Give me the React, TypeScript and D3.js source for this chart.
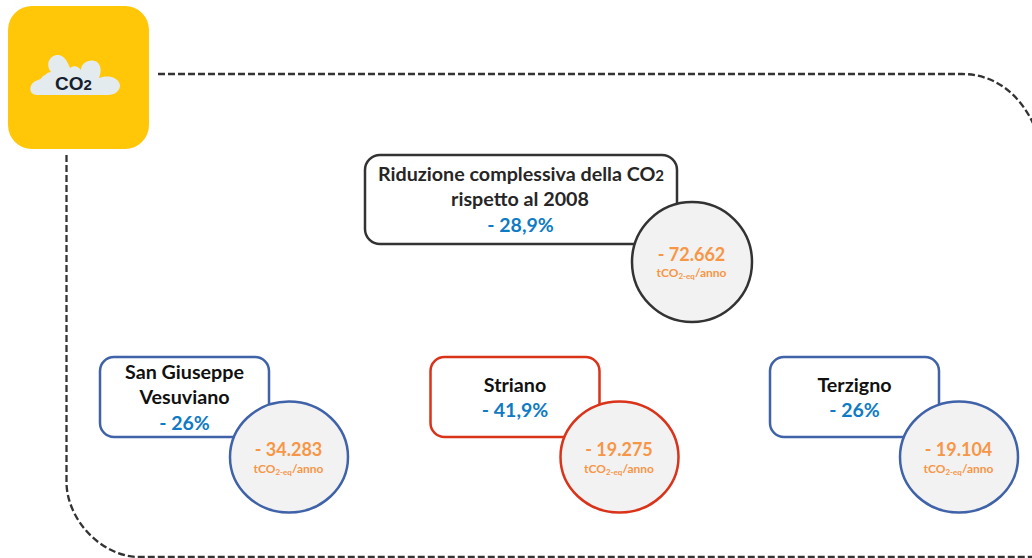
import React from "react";
import * as d3 from "d3";

const municipalities = ["San Giuseppe|Vesuviano", "Striano", "Terzigno"];
const percentages = ["- 26%", "- 41,9%", "- 26%"];
const tonnes = ["- 34.283", "- 19.275", "- 19.104"];
const borders = ["#3F62A8", "#D9331A", "#3F62A8"];
const cardCentres = [184.5, 515, 854.5];
const totalTitle = ["Riduzione complessiva della CO", "rispetto al 2008"];
const totalPct = "- 28,9%";
const totalTonnes = "- 72.662";

const FONT = "Lato, 'Open Sans', sans-serif";
const BLUE = "#0F7BC4";
const ORANGE = "#F79646";

const x = d3.scaleOrdinal<string, number>().domain(municipalities).range(cardCentres);

function frame() {
  const p = d3.path();
  p.moveTo(158, 74);
  p.lineTo(962, 74);
  p.bezierCurveTo(995, 74, 1022, 95, 1036, 130);
  p.moveTo(66.5, 155);
  p.lineTo(66.5, 482);
  p.bezierCurveTo(66.5, 518, 100, 557, 140, 557);
  p.lineTo(1036, 557);
  return p.toString();
}

function cloud() {
  const p = d3.path();
  p.moveTo(37, 95);
  p.bezierCurveTo(28, 95, 28, 83, 38, 80);
  p.bezierCurveTo(42, 79, 42, 76, 45, 75);
  p.bezierCurveTo(47, 73, 49, 72, 51, 72);
  p.bezierCurveTo(44, 62, 52, 54, 59, 55);
  p.bezierCurveTo(65, 56, 68, 63, 70, 68);
  p.bezierCurveTo(74, 65, 78, 66, 81, 70);
  p.bezierCurveTo(81, 62, 91, 58, 97, 62);
  p.bezierCurveTo(102, 66, 101, 73, 99, 78);
  p.bezierCurveTo(106, 75, 118, 76, 120, 85);
  p.bezierCurveTo(120, 91, 115, 95, 108, 95);
  p.closePath();
  return p.toString();
}

function Card(props: { name: string; pct: string; val: string; cx: number; color: string }) {
  const { name, pct, val, cx, color } = props;
  const lines = name.split("|");
  const ys = lines.length === 2 ? [379, 404] : [392];
  const circleX = cx + 104.5;
  return (
    <g>
      <rect x={cx - 84.5} y={357} width={169} height={80} rx={14} fill="#fff" stroke={color} strokeWidth={2.5} />
      {lines.map((l, i) => (
        <text key={l} x={cx} y={ys[i]} textAnchor="middle" fontSize={19.7} fontWeight={700} fill="#111">{l}</text>
      ))}
      <text x={cx} y={lines.length === 2 ? 430 : 417} textAnchor="middle" fontSize={19.5} fontWeight={700} fill={BLUE}>{pct}</text>
      <ellipse cx={circleX} cy={457} rx={59} ry={55.5} fill="#F2F2F2" stroke={color} strokeWidth={2.5} />
      <text x={circleX - 0.5} y={456} textAnchor="middle" fontSize={18} fontWeight={700} fill={ORANGE}>{val}</text>
      <Unit x={circleX - 0.5} y={473} />
    </g>
  );
}

function Unit({ x: ux, y }: { x: number; y: number }) {
  return (
    <text x={ux} y={y} textAnchor="middle" fontSize={12} fontWeight={700} fill={ORANGE}>
      tCO<tspan fontSize={8} dy={2}>2-eq</tspan><tspan dy={-2}>/anno</tspan>
    </text>
  );
}

export default function App() {
  return (
    <svg width={1032} height={558} style={{ position: "absolute", left: 0, top: 0, background: "#fff" }} fontFamily={FONT}>
      <path d={frame()} fill="none" stroke="#333" strokeWidth={2.3} strokeDasharray="7 3" />
      <rect x={8} y={6} width={141} height={143} rx={24} fill="#FFC708" />
      <path d={cloud()} fill="#E4EBEE" />
      <text x={55} y={90} fontSize={19} fontWeight={700} fill="#14202E" fontFamily="'Liberation Sans', sans-serif">CO<tspan fontSize={15}>2</tspan></text>

      <rect x={365} y={155} width={312} height={89} rx={15} fill="#fff" stroke="#333" strokeWidth={2.5} />
      <text x={521} y={181} textAnchor="middle" fontSize={19.7} fontWeight={700} fill="#262626">
        {totalTitle[0]}<tspan fontSize={15}>2</tspan>
      </text>
      <text x={520} y={206} textAnchor="middle" fontSize={19.7} fontWeight={700} fill="#262626">{totalTitle[1]}</text>
      <text x={520.5} y={232} textAnchor="middle" fontSize={19.5} fontWeight={700} fill={BLUE}>{totalPct}</text>
      <circle cx={692} cy={262} r={60} fill="#F2F2F2" stroke="#333" strokeWidth={2.5} />
      <text x={691.5} y={261} textAnchor="middle" fontSize={18} fontWeight={700} fill={ORANGE}>{totalTonnes}</text>
      <Unit x={691.5} y={277} />

      {municipalities.map((m, i) => (
        <Card key={m} name={m} pct={percentages[i]} val={tonnes[i]} cx={x(m)} color={borders[i]} />
      ))}
    </svg>
  );
}
